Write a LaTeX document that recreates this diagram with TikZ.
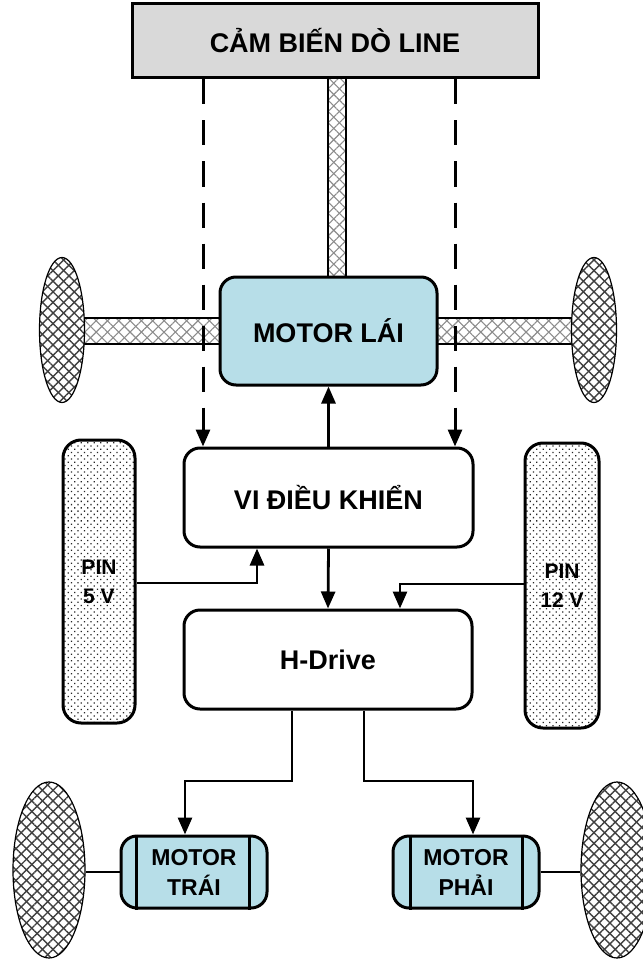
\documentclass[tikz,border=0pt]{standalone}
\usepackage{fontspec}
\setmainfont{Liberation Sans}
\usetikzlibrary{arrows.meta,patterns.meta,shapes.geometric}
\definecolor{motorblue}{RGB}{183,222,232}
\definecolor{sensorgray}{RGB}{217,217,217}
\begin{document}
\begin{tikzpicture}[x=1pt,y=-1pt,
  blockbox/.style={draw, line width=3pt, rounded corners=16pt, inner sep=0pt,
    font=\bfseries\fontsize{27}{30}\selectfont, align=center},
  sensorbox/.style={draw, line width=3pt, fill=sensorgray, inner sep=0pt,
    font=\bfseries\fontsize{27}{30}\selectfont},
  smallmotor/.style={draw, line width=3pt, rounded corners=16pt, fill=motorblue, inner sep=0pt,
    minimum width=146pt, minimum height=72pt,
    font=\bfseries\fontsize{23}{30}\selectfont, align=center},
  pinbox/.style={draw, line width=3pt, rounded corners=18pt, inner sep=0pt,
    preaction={fill=white},
    pattern={Dots[radius=0.9pt, distance=4.6pt, angle=45]}, pattern color=black!85,
    font=\bfseries\fontsize{21}{29}\selectfont, align=center},
  wheel/.style={ellipse, draw, line width=1.2pt, inner sep=0pt,
    preaction={fill=white},
    preaction={pattern={Lines[angle=45, distance=7.5pt, line width=1.4pt]}, pattern color=black!75},
    pattern={Lines[angle=-45, distance=7.5pt, line width=1.4pt]}, pattern color=black!75},
  axle/.style={draw, line width=1.4pt, inner sep=0pt,
    preaction={fill=white},
    preaction={pattern={Lines[angle=45, distance=8pt, line width=1.1pt]}, pattern color=black!45},
    pattern={Lines[angle=-45, distance=8pt, line width=1.1pt]}, pattern color=black!45},
  conn/.style={line width=2.8pt},
  arrow/.style={conn, -{Triangle[length=17pt, width=14pt]}},
  dasharrow/.style={line width=3pt, dash pattern=on 25pt off 16pt, -{Triangle[length=17pt, width=14pt]}},
  innerline/.style={line width=2.4pt}
]
\useasboundingbox (0,0) rectangle (642,960);

% axles and shaft (under everything)
\node[axle, minimum width=18pt, minimum height=199pt] (shaft) at (337,177.5) {};
\node[axle, minimum width=142pt, minimum height=26pt] (axleL) at (151,331) {};
\node[axle, minimum width=141pt, minimum height=26pt] (axleR) at (505.5,331) {};

% wheels
\node[wheel, minimum width=45pt, minimum height=145pt] (wl1) at (62,330) {};
\node[wheel, minimum width=45pt, minimum height=145pt] (wr1) at (594,330) {};
\node[wheel, minimum width=72pt, minimum height=176pt] (wl2) at (49,870) {};
\node[wheel, minimum width=72pt, minimum height=176pt] (wr2) at (617,870) {};

% main blocks
\node[sensorbox, minimum width=406pt, minimum height=74pt] (sensor) at (335,41) {CẢM BIẾN DÒ LINE};
\node[blockbox, fill=motorblue, minimum width=217pt, minimum height=108pt] (steer) at (328.5,331) {MOTOR LÁI};
\node[blockbox, fill=white, minimum width=289pt, minimum height=99pt] (mcu) at (328.5,497.5) {VI ĐIỀU KHIỂN};
\node[blockbox, fill=white, minimum width=288pt, minimum height=99pt] (hdrive) at (328,659.5) {H-Drive};
\node[pinbox, minimum width=72pt, minimum height=283pt] (pin5) at (99,581.5) {PIN\\5 V};
\node[pinbox, minimum width=74pt, minimum height=285pt] (pin12) at (562,585.5) {PIN\\12 V};

% drive motors
\node[smallmotor] (mleft) at (194,872) {MOTOR\\TRÁI};
\node[smallmotor] (mright) at (466,872) {MOTOR\\PHẢI};
\draw[innerline] ([xshift=17pt]mleft.north west) -- ([xshift=17pt]mleft.south west);
\draw[innerline] ([xshift=-19pt]mleft.north east) -- ([xshift=-19pt]mleft.south east);
\draw[innerline] ([xshift=19pt]mright.north west) -- ([xshift=19pt]mright.south west);
\draw[innerline] ([xshift=-18pt]mright.north east) -- ([xshift=-18pt]mright.south east);

% helper coordinates
\coordinate (dxl) at (203,0);
\coordinate (dxr) at (455,0);
\coordinate (p5y) at (0,583);
\coordinate (p5x) at (257,0);
\coordinate (p12y) at (0,584);
\coordinate (p12x) at (400,0);
\coordinate (hx1) at (292,0);
\coordinate (hx2) at (364,0);
\coordinate (hy) at (0,781);
\coordinate (ax1) at (185,0);
\coordinate (ax2) at (473,0);

% sensor to controller (dashed)
\draw[dasharrow] (sensor.south -| dxl) -- (mcu.north -| dxl);
\draw[dasharrow] (sensor.south -| dxr) -- (mcu.north -| dxr);

% controller connections
\draw[arrow] (mcu.north) -- (steer.south);
\draw[arrow] (mcu.south) -- (hdrive.north);
\draw[arrow] (pin5.east |- p5y) -| (mcu.south -| p5x);
\draw[arrow] (pin12.west |- p12y) -| (hdrive.north -| p12x);

% H-drive to motors
\draw[arrow] (hdrive.south -| hx1) -- (hx1 |- hy) -| (mleft.north -| ax1);
\draw[arrow] (hdrive.south -| hx2) -- (hx2 |- hy) -| (mright.north -| ax2);

% motors to wheels
\draw[conn] (mleft.west) -- (mleft.west -| wl2.east);
\draw[conn] (mright.east) -- (mright.east -| wr2.west);
\end{tikzpicture}
\end{document}
